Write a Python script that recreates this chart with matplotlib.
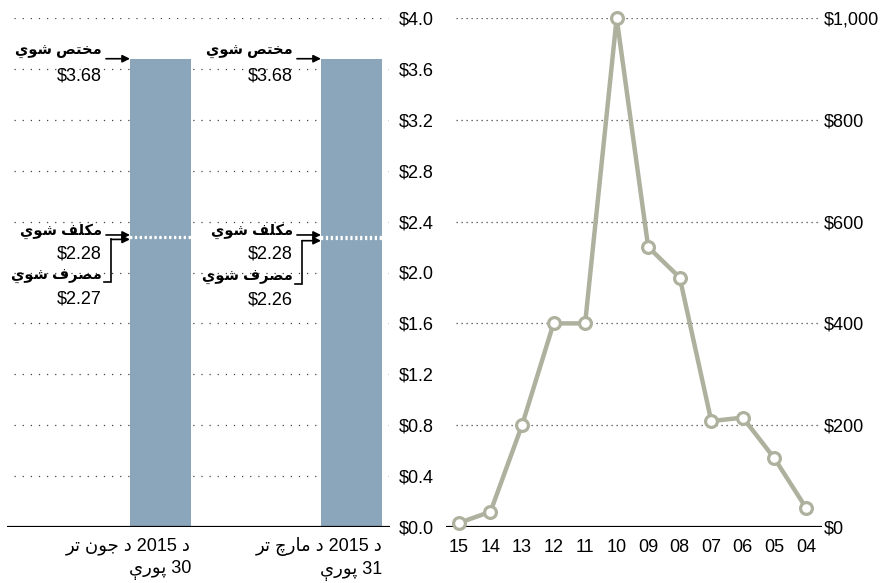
import matplotlib
matplotlib.use('Agg')
import matplotlib.pyplot as plt

# --- data ---------------------------------------------------------------
bar_labels = ['د 2015 د جون تر\n30 پورې', 'د 2015 د مارچ تر\n31 پورې']
allotted = [3.68, 3.68]      # مختص شوي
obligated = [2.28, 2.28]     # مكلف شوي
spent = [2.27, 2.26]         # مصرف شوي
left_ticks = [0.0, 0.4, 0.8, 1.2, 1.6, 2.0, 2.4, 2.8, 3.2, 3.6, 4.0]
left_ticklabels = ['$0.0', '$0.4', '$0.8', '$1.2', '$1.6', '$2.0', '$2.4',
                   '$2.8', '$3.2', '$3.6', '$4.0']

years = ['15', '14', '13', '12', '11', '10', '09', '08', '07', '06', '05', '04']
yearly = [8, 30, 200, 400, 400, 1000, 550, 490, 208, 215, 135, 38]
right_ticks = [0, 200, 400, 600, 800, 1000]
right_ticklabels = ['$0', '$200', '$400', '$600', '$800', '$1,000']

lbl_allotted = 'مختص شوي'
lbl_obligated = 'مكلف شوي'
lbl_spent = 'مصرف شوي'

# --- minimal Arabic/Pashto shaping (matplotlib has no complex layout) ----
FORMS = {  # isolated, final, initial, medial
    'ا': ('\uFE8D', '\uFE8E'), 'د': ('\uFEA9', '\uFEAA'),
    'ر': ('\uFEAD', '\uFEAE'), 'و': ('\uFEED', '\uFEEE'),
    'ت': ('\uFE95', '\uFE96', '\uFE97', '\uFE98'),
    'ج': ('\uFE9D', '\uFE9E', '\uFE9F', '\uFEA0'),
    'خ': ('\uFEA5', '\uFEA6', '\uFEA7', '\uFEA8'),
    'ش': ('\uFEB5', '\uFEB6', '\uFEB7', '\uFEB8'),
    'ص': ('\uFEB9', '\uFEBA', '\uFEBB', '\uFEBC'),
    'ف': ('\uFED1', '\uFED2', '\uFED3', '\uFED4'),
    'ك': ('\uFED9', '\uFEDA', '\uFEDB', '\uFEDC'),
    'ل': ('\uFEDD', '\uFEDE', '\uFEDF', '\uFEE0'),
    'م': ('\uFEE1', '\uFEE2', '\uFEE3', '\uFEE4'),
    'ن': ('\uFEE5', '\uFEE6', '\uFEE7', '\uFEE8'),
    'ي': ('\uFEF1', '\uFEF2', '\uFEF3', '\uFEF4'),
    'پ': ('\uFB56', '\uFB57', '\uFB58', '\uFB59'),
    'چ': ('\uFB7A', '\uFB7B', '\uFB7C', '\uFB7D'),
    'ې': ('\uFBE4', '\uFBE5', '\uFBE6', '\uFBE7'),
}


def shape_word(w):
    out = []
    for i, c in enumerate(w):
        if c not in FORMS:
            out.append(c)
            continue
        prev = w[i - 1] if i > 0 else None
        nxt = w[i + 1] if i < len(w) - 1 else None
        join_prev = prev in FORMS and len(FORMS[prev]) == 4
        join_next = len(FORMS[c]) == 4 and nxt in FORMS
        f = FORMS[c]
        if join_prev and join_next:
            out.append(f[3])
        elif join_prev:
            out.append(f[1])
        elif join_next:
            out.append(f[2])
        else:
            out.append(f[0])
    return ''.join(out)


def rtl(text):
    lines = []
    for line in text.split('\n'):
        words = []
        for w in reversed(line.split(' ')):
            words.append(w if w.isdigit() else shape_word(w)[::-1])
        lines.append(' '.join(words))
    return '\n'.join(lines)


plt.rcParams['font.family'] = ['Liberation Sans', 'DejaVu Sans']
plt.rcParams['font.size'] = 13

bar_color = '#8ba6ba'
line_color = '#adb19d'
grid_color = '#444444'

fig = plt.figure(figsize=(8.8, 5.83), dpi=100)

# --- left panel: bars ------------------------------------------------------
ax1_w, ax1_h = 383, 509   # axes size in pixels
ax1 = fig.add_axes([7 / 880, 56 / 583, ax1_w / 880, ax1_h / 583])
xs = list(range(len(bar_labels)))
w = 0.32
ax1.bar(xs, allotted, width=w, color=bar_color, zorder=2)
ax1.set_xlim(-0.804, 1.2016)
ax1.set_ylim(0, 4.0)
kx = (1.2016 + 0.804) / ax1_w   # data units per pixel
ky = 4.0 / ax1_h
ax1.hlines(left_ticks[1:], 0.018, 0.995, transform=ax1.get_yaxis_transform(),
           colors=grid_color, linewidth=0.9, linestyles=(0, (1, 5.5)), zorder=1)
ax1.axhline(0, color='black', linewidth=2.3, zorder=3)
ax1.yaxis.tick_right()
ax1.set_yticks(left_ticks)
ax1.set_yticklabels(left_ticklabels)
ax1.tick_params(axis='y', length=0, pad=6)
ax1.set_xticks([])
for s in ax1.spines.values():
    s.set_visible(False)

arrow = dict(arrowstyle='-|>', color='black', lw=1.2, mutation_scale=11,
             shrinkA=0, shrinkB=0)
lab_font = 10.5
for x, a, o, s, lab in zip(xs, allotted, obligated, spent, bar_labels):
    left = x - w / 2
    # white dotted marks inside the bar
    ax1.hlines([o, s], left, left + w, colors='white', linewidth=1.6,
               linestyles=(0, (1, 1.2)), zorder=3)
    # allotted
    ax1.annotate('', xy=(left, a), xytext=(-24, 0),
                 textcoords='offset pixels', arrowprops=arrow)
    ax1.annotate(rtl(lbl_allotted), xy=(left, a), xytext=(-28, 7),
                 textcoords='offset pixels', ha='right', va='center',
                 fontweight='bold', fontsize=lab_font)
    ax1.annotate(f'${a:.2f}', xy=(left, a), xytext=(-28, -17),
                 textcoords='offset pixels', ha='right', va='center')
    # obligated
    ax1.annotate('', xy=(left, o + 0.015), xytext=(-24, 0),
                 textcoords='offset pixels', arrowprops=arrow)
    ax1.annotate(rtl(lbl_obligated), xy=(left, o), xytext=(-28, 6),
                 textcoords='offset pixels', ha='right', va='center',
                 fontweight='bold', fontsize=lab_font)
    ax1.annotate(f'${o:.2f}', xy=(left, o), xytext=(-28, -17),
                 textcoords='offset pixels', ha='right', va='center')
    # spent with bracket
    ax1.annotate(rtl(lbl_spent), xy=(left, s), xytext=(-28, -39),
                 textcoords='offset pixels', ha='right', va='center',
                 fontweight='bold', fontsize=lab_font)
    ax1.annotate(f'${s:.2f}', xy=(left, s), xytext=(-28, -61),
                 textcoords='offset pixels', ha='right', va='center')
    bx = left - 19 * kx
    by = s - 0.01 - 43 * ky
    ax1.plot([left - 26 * kx, bx, bx], [by, by, s - 0.01], color='black',
             lw=1.2, solid_joinstyle='miter', zorder=4)
    ax1.annotate('', xy=(left, s - 0.01), xytext=(bx, s - 0.01),
                 arrowprops=arrow)
    # category label under the bar
    ax1.annotate(rtl(lab), xy=(left + w, 0), xytext=(0, -10),
                 textcoords='offset pixels', ha='right', va='top',
                 multialignment='right', linespacing=1.4)

# --- right panel: line ---------------------------------------------------
ax2 = fig.add_axes([446 / 880, 56 / 583, 376 / 880, 509 / 583])
xi = list(range(len(years)))
ax2.set_xlim(-0.41, 11.51)
ax2.set_ylim(0, 1000)
ax2.hlines(right_ticks[1:], 0.027, 0.995, transform=ax2.get_yaxis_transform(),
           colors=grid_color, linewidth=0.9, linestyles=(0, (1, 3)), zorder=1)
ax2.axhline(0, color='black', linewidth=2.3, zorder=2)
ax2.plot(xi, yearly, color=line_color, linewidth=3.2, marker='o',
         markersize=8.5, markerfacecolor='white', markeredgecolor=line_color,
         markeredgewidth=2.3, zorder=3, clip_on=False)
ax2.yaxis.tick_right()
ax2.set_yticks(right_ticks)
ax2.set_yticklabels(right_ticklabels)
ax2.set_xticks(xi)
ax2.set_xticklabels(years)
ax2.tick_params(axis='y', length=0, pad=1)
ax2.tick_params(axis='x', length=0, pad=9)
for s in ax2.spines.values():
    s.set_visible(False)

fig.savefig('out.png', dpi=100)
